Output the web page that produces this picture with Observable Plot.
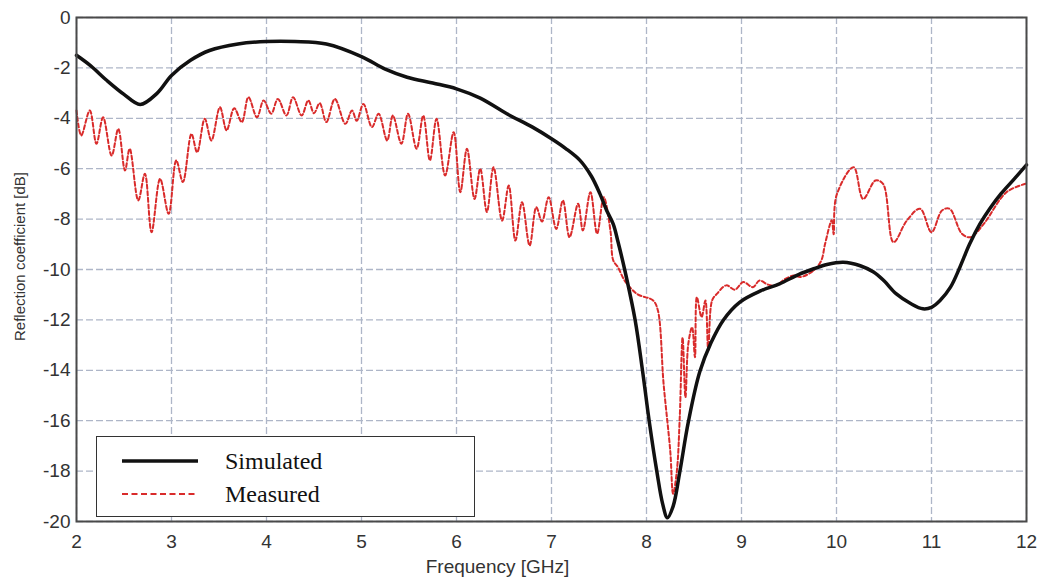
<!DOCTYPE html>
<html>
<head>
<meta charset="utf-8">
<script src="https://cdn.jsdelivr.net/npm/d3@7"></script>
<script src="https://cdn.jsdelivr.net/npm/@observablehq/plot@0.6"></script>
<style>
  html, body { margin: 0; padding: 0; background: #fff; }
  #wrap { position: relative; width: 1039px; height: 582px; }
  #legend { position: absolute; left: 96px; top: 436px; width: 377px; height: 79px;
            border: 1.6px solid #333; background: #fff; }
</style>
</head>
<body>
<div id="wrap"></div>
<script>
// ---- data ----
const seriesNames = ["Simulated", "Measured"];

const simFreq = [2.0, 2.15, 2.32, 2.5, 2.67, 2.85, 3.0, 3.2, 3.4, 3.7, 4.0, 4.3, 4.63, 5.0, 5.25, 5.48, 5.75, 6.0, 6.25, 6.53, 6.8, 7.0, 7.15, 7.3, 7.42, 7.51, 7.58, 7.65, 7.7, 7.77, 7.88, 7.96, 8.03, 8.11, 8.17, 8.22, 8.28, 8.35, 8.44, 8.56, 8.68, 8.81, 8.98, 9.2, 9.4, 9.6, 9.76, 9.9, 10.07, 10.25, 10.39, 10.5, 10.63, 10.78, 10.91, 11.0, 11.09, 11.2, 11.3, 11.4, 11.51, 11.62, 11.73, 11.86, 12.0];
const simDb = [-1.5, -1.92, -2.5, -3.05, -3.45, -3.0, -2.3, -1.7, -1.31, -1.05, -0.95, -0.95, -1.05, -1.55, -2.05, -2.37, -2.6, -2.83, -3.2, -3.82, -4.35, -4.81, -5.2, -5.67, -6.3, -7.0, -7.65, -8.2, -8.9, -10.0, -12.0, -14.07, -16.06, -18.04, -19.3, -19.85, -19.4, -18.04, -16.06, -14.07, -12.9, -12.0, -11.3, -10.85, -10.57, -10.2, -9.97, -9.8, -9.71, -9.85, -10.1, -10.45, -10.97, -11.35, -11.56, -11.5, -11.23, -10.7, -9.9, -9.0, -8.19, -7.55, -7.0, -6.45, -5.85];

const measFreq = [2.0, 2.05, 2.14, 2.21, 2.28, 2.37, 2.44, 2.51, 2.56, 2.65, 2.72, 2.79, 2.88, 2.97, 3.05, 3.12, 3.21, 3.27, 3.35, 3.42, 3.51, 3.58, 3.66, 3.74, 3.81, 3.9, 3.97, 4.05, 4.12, 4.21, 4.28, 4.37, 4.44, 4.5, 4.56, 4.63, 4.72, 4.83, 4.9, 4.95, 5.02, 5.11, 5.18, 5.27, 5.33, 5.42, 5.49, 5.58, 5.65, 5.72, 5.79, 5.88, 5.97, 6.04, 6.11, 6.19, 6.25, 6.32, 6.39, 6.48, 6.55, 6.62, 6.69, 6.77, 6.84, 6.9, 6.97, 7.05, 7.12, 7.19, 7.28, 7.33, 7.41, 7.48, 7.55, 7.62, 7.65, 7.7, 7.77, 7.9, 8.07, 8.12, 8.18, 8.25, 8.28, 8.32, 8.35, 8.38, 8.41, 8.44, 8.48, 8.51, 8.53, 8.58, 8.62, 8.65, 8.69, 8.74, 8.84, 8.93, 9.02, 9.12, 9.19, 9.28, 9.37, 9.45, 9.55, 9.62, 9.76, 9.84, 9.88, 9.95, 9.97, 10.0, 10.18, 10.28, 10.41, 10.49, 10.6, 10.74, 10.88, 11.0, 11.11, 11.19, 11.32, 11.41, 11.55, 11.79, 11.99];
const measDb = [-3.69, -4.68, -3.69, -5.01, -3.96, -5.48, -4.42, -6.07, -5.21, -7.26, -6.2, -8.52, -6.4, -7.79, -5.67, -6.53, -4.62, -5.35, -4.02, -4.88, -3.56, -4.48, -3.6, -4.15, -3.16, -3.96, -3.29, -3.82, -3.23, -3.89, -3.16, -3.89, -3.29, -3.8, -3.4, -4.15, -3.23, -4.22, -3.69, -4.1, -3.43, -4.35, -3.82, -4.88, -3.89, -5.01, -3.82, -5.21, -3.89, -5.67, -4.02, -6.27, -4.55, -6.93, -5.21, -7.2, -6.0, -7.72, -5.94, -8.06, -6.67, -8.85, -7.33, -9.05, -7.53, -8.1, -7.13, -8.39, -7.26, -8.72, -7.39, -8.45, -6.93, -8.58, -7.13, -8.45, -9.64, -9.91, -10.44, -10.97, -11.23, -11.63, -14.54, -17.2, -18.9, -17.98, -15.86, -12.7, -15.07, -12.95, -12.29, -13.48, -11.1, -11.89, -11.23, -13.21, -11.23, -10.97, -10.63, -10.8, -10.5, -10.7, -10.44, -10.6, -10.63, -10.4, -10.24, -10.3, -10.04, -9.64, -8.98, -8.05, -8.6, -7.06, -5.94, -7.2, -6.47, -6.6, -8.92, -8.06, -7.59, -8.52, -7.66, -7.59, -8.58, -8.72, -8.19, -6.93, -6.6];

const xTicks = [2, 3, 4, 5, 6, 7, 8, 9, 10, 11, 12];
const yTicks = [0, -2, -4, -6, -8, -10, -12, -14, -16, -18, -20];
const xLabel = "Frequency [GHz]";
const yLabel = "Reflection coefficient [dB]";

// ---- build tables ----
const sim = simFreq.map((f, i) => ({f, db: simDb[i]}));
const meas = measFreq.map((f, i) => ({f, db: measDb[i]}));

const simColor = "#111111";
const measColor = "#d92b2b";
const gridColor = "#aeb6c8";

const chart = Plot.plot({
  width: 1039,
  height: 582,
  marginLeft: 76,
  marginRight: 13,
  marginTop: 17,
  marginBottom: 61,
  style: {fontFamily: "'Liberation Sans', Arial, sans-serif", background: "#fff"},
  x: {domain: [2, 12], ticks: xTicks},
  y: {domain: [-20, 0], ticks: yTicks},
  marks: [
    Plot.gridX(xTicks, {stroke: gridColor, strokeOpacity: 1, strokeWidth: 1.3, strokeDasharray: "7,3"}),
    Plot.gridY(yTicks, {stroke: gridColor, strokeOpacity: 1, strokeWidth: 1.3, strokeDasharray: "7,3"}),
    Plot.line(meas, {x: "f", y: "db", stroke: measColor, strokeWidth: 2, strokeDasharray: "4,2.5", curve: "catmull-rom"}),
    Plot.line(sim, {x: "f", y: "db", stroke: simColor, strokeWidth: 3.5, curve: "catmull-rom"}),
    Plot.frame({stroke: "#4a4a4a", strokeWidth: 2}),
    Plot.axisX(xTicks, {tickSize: 0, tickPadding: 13, fontSize: 19, fill: "#333", label: null}),
    Plot.axisY(yTicks, {tickSize: 0, tickPadding: 6, fontSize: 19, fill: "#333", label: null, tickFormat: d => String(d)}),
    Plot.text([xLabel], {frameAnchor: "bottom", dx: -54, dy: 51, fontSize: 19, fill: "#333", text: d => d}),
    Plot.text([yLabel], {frameAnchor: "left", textAnchor: "middle", rotate: -90, dx: -56, dy: -13, fontSize: 15, fill: "#333", text: d => d})
  ]
});
document.getElementById("wrap").appendChild(chart);

// ---- legend ----
const legend = document.createElement("div");
legend.id = "legend";
const ns = "http://www.w3.org/2000/svg";
const lsvg = document.createElementNS(ns, "svg");
lsvg.setAttribute("width", 377);
lsvg.setAttribute("height", 79);
const styles = [
  {stroke: simColor, width: 3.5, dash: null},
  {stroke: measColor, width: 2, dash: "6,3.5"}
];
seriesNames.forEach((name, i) => {
  const yy = 24 + i * 33;
  const ln = document.createElementNS(ns, "line");
  ln.setAttribute("x1", 25); ln.setAttribute("x2", 101);
  ln.setAttribute("y1", yy); ln.setAttribute("y2", yy);
  ln.setAttribute("stroke", styles[i].stroke);
  ln.setAttribute("stroke-width", styles[i].width);
  if (styles[i].dash) ln.setAttribute("stroke-dasharray", styles[i].dash);
  lsvg.appendChild(ln);
  const tx = document.createElementNS(ns, "text");
  tx.setAttribute("x", 128);
  tx.setAttribute("y", yy + 8);
  tx.setAttribute("font-family", "'Liberation Serif', 'Times New Roman', serif");
  tx.setAttribute("font-size", 24);
  tx.setAttribute("fill", "#111");
  tx.textContent = name;
  lsvg.appendChild(tx);
});
legend.appendChild(lsvg);
document.getElementById("wrap").appendChild(legend);
</script>
</body>
</html>
